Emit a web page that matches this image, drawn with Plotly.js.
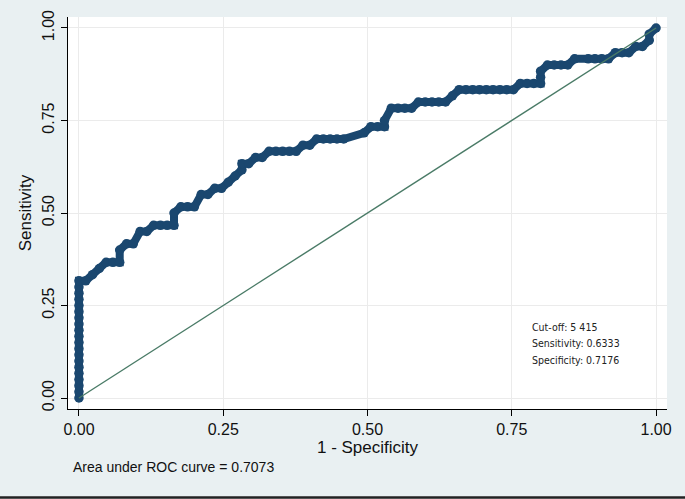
<!DOCTYPE html>
<html>
<head>
<meta charset="utf-8">
<script src="https://cdn.plot.ly/plotly-3.0.1.min.js"></script>
<style>
  html, body { margin: 0; padding: 0; background: #e9f0f2; }
  #chart { width: 685px; height: 499px; }
</style>
</head>
<body>
<div id="chart"></div>
<script>
// 1 - Specificity (false positive rate) of each ROC point
const fpr = [
  0, 0, 0, 0, 0, 0, 0, 0, 0, 0, 0, 0, 0, 0, 0, 0, 0, 0, 0, 0,
  0.0118, 0.0235, 0.0353, 0.0471, 0.0588, 0.0706, 0.0706, 0.0824, 0.0941, 0.1059,
  0.1176, 0.1294, 0.1412, 0.1529, 0.1647, 0.1647, 0.1765, 0.1882, 0.2, 0.2118,
  0.2235, 0.2353, 0.2471, 0.2588, 0.2706, 0.2824, 0.2824, 0.2941, 0.3059, 0.3176,
  0.3294, 0.3412, 0.3529, 0.3647, 0.3765, 0.3882, 0.4, 0.4118, 0.4235, 0.4353,
  0.4471, 0.4588, 0.4941, 0.5059, 0.5176, 0.5294, 0.5294, 0.5412, 0.5529, 0.5647,
  0.5765, 0.5882, 0.6, 0.6118, 0.6235, 0.6353, 0.6471, 0.6588, 0.6706, 0.6824,
  0.6941, 0.7059, 0.7176, 0.7294, 0.7412, 0.7529, 0.7647, 0.7765, 0.7882, 0.8,
  0.8, 0.8, 0.8118, 0.8235, 0.8353, 0.8471, 0.8588, 0.8824, 0.8941, 0.9059,
  0.9176, 0.9294, 0.9412, 0.9529, 0.9647, 0.9765, 0.9882, 0.9882, 1
];
// Sensitivity (true positive rate) of each ROC point
const tpr = [
  0, 0.0167, 0.0333, 0.05, 0.0667, 0.0833, 0.1, 0.1167, 0.1333, 0.15,
  0.1667, 0.1833, 0.2, 0.2167, 0.2333, 0.25, 0.2667, 0.2833, 0.3, 0.3167,
  0.3167, 0.3333, 0.35, 0.3667, 0.3667, 0.3667, 0.4, 0.4167, 0.4167, 0.45,
  0.45, 0.4667, 0.4667, 0.4667, 0.4667, 0.5, 0.5167, 0.5167, 0.5167, 0.55,
  0.55, 0.5667, 0.5667, 0.5833, 0.6, 0.6167, 0.6333, 0.6333, 0.65, 0.65,
  0.6667, 0.6667, 0.6667, 0.6667, 0.6667, 0.6833, 0.6833, 0.7, 0.7, 0.7,
  0.7, 0.7, 0.7167, 0.7333, 0.7333, 0.7333, 0.75, 0.7833, 0.7833, 0.7833,
  0.7833, 0.8, 0.8, 0.8, 0.8, 0.8, 0.8167, 0.8333, 0.8333, 0.8333,
  0.8333, 0.8333, 0.8333, 0.8333, 0.8333, 0.8333, 0.85, 0.85, 0.85, 0.85,
  0.8667, 0.8833, 0.9, 0.9, 0.9, 0.9, 0.9167, 0.9167, 0.9167, 0.9167,
  0.9167, 0.9333, 0.9333, 0.9333, 0.95, 0.95, 0.9667, 0.9833, 1
];
// Reference (chance) line
const refX = [0, 1];
const refY = [0, 1];
const tickVals = [0, 0.25, 0.5, 0.75, 1];
const tickText = ["0.00", "0.25", "0.50", "0.75", "1.00"];
const cutoffLines = ["Cut-off: 5 415", "Sensitivity: 0.6333", "Specificity: 0.7176"];
const aucText = "Area under ROC curve = 0.7073";

const navy = "#1a476f";
const traces = [
  {
    x: fpr, y: tpr, type: "scatter", mode: "lines+markers",
    line: { color: navy, width: 8 },
    marker: { color: navy, size: 9.5, line: { width: 0 } },
    showlegend: false, hoverinfo: "x+y"
  },
  {
    x: refX, y: refY, type: "scatter", mode: "lines",
    line: { color: "#4a7b67", width: 1.4 },
    showlegend: false, hoverinfo: "skip"
  }
];

const axisFont = { family: "Liberation Sans, Arial, sans-serif", size: 16, color: "#111" };
const smallFont = { family: "Liberation Sans Narrow, Arial Narrow, DejaVu Sans Condensed, sans-serif", size: 10.5, color: "#222" };

const layout = {
  width: 685, height: 499,
  paper_bgcolor: "#e9f0f2",
  plot_bgcolor: "#ffffff",
  margin: { l: 68, r: 18, t: 17, b: 90, pad: 0 },
  font: axisFont,
  xaxis: {
    range: [-0.019, 1.019], tickvals: tickVals, ticktext: tickText,
    ticks: "outside", ticklen: 6, tickcolor: "#000", tickwidth: 1,
    showline: true, linecolor: "#000", linewidth: 1.2, mirror: false,
    showgrid: true, gridcolor: "#ebebeb", gridwidth: 1, zeroline: false,
    tickfont: axisFont,
    title: { text: "1 - Specificity", font: { family: axisFont.family, size: 17, color: "#111" }, standoff: 2 }
  },
  yaxis: {
    range: [-0.0297, 1.0297], tickvals: tickVals, ticktext: tickText,
    ticks: "outside", ticklen: 6, tickcolor: "#000", tickwidth: 1,
    showline: true, linecolor: "#000", linewidth: 1.2, mirror: false,
    showgrid: true, gridcolor: "#ebebeb", gridwidth: 1, zeroline: false,
    tickangle: -90, tickfont: axisFont,
    title: { text: "Sensitivity", font: { family: axisFont.family, size: 17, color: "#111" }, standoff: 4 }
  },
  annotations: [
    { x: 0.782, y: 0.192, xref: "x", yref: "y", text: cutoffLines[0], showarrow: false, xanchor: "left", yanchor: "middle", font: smallFont },
    { x: 0.782, y: 0.149, xref: "x", yref: "y", text: cutoffLines[1], showarrow: false, xanchor: "left", yanchor: "middle", font: smallFont },
    { x: 0.782, y: 0.103, xref: "x", yref: "y", text: cutoffLines[2], showarrow: false, xanchor: "left", yanchor: "middle", font: smallFont },
    { x: 0.005, y: -0.148, xref: "paper", yref: "paper", text: aucText, showarrow: false, xanchor: "left", yanchor: "middle",
      font: { family: axisFont.family, size: 14, color: "#111" } }
  ],
  shapes: [
    { type: "line", xref: "paper", yref: "paper", x0: -0.2, x1: 1.2, y0: -0.2255, y1: -0.2255, line: { color: "#222", width: 2.5 } }
  ]
};

Plotly.newPlot("chart", traces, layout, { staticPlot: true, displayModeBar: false });
</script>
</body>
</html>
